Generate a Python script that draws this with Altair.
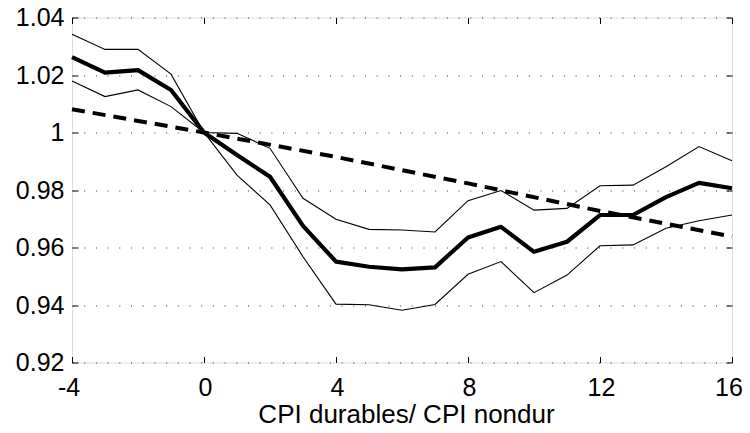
import altair as alt
import pandas as pd

# horizon (months)
horizon = list(range(-4, 17))
# point estimate (thick line)
estimate = [1.0262, 1.0208, 1.0217, 1.0148, 1.0, 0.9922, 0.9846, 0.9675, 0.9551, 0.9533, 0.9524,
            0.9531, 0.9635, 0.9672, 0.9585, 0.9620, 0.9713, 0.9713, 0.9775, 0.9825, 0.9806]
# upper band (thin)
upper = [1.0342, 1.0289, 1.0289, 1.0203, 1.0, 0.9997, 0.9945, 0.9771, 0.9698, 0.9663, 0.9661,
         0.9654, 0.9763, 0.9798, 0.9730, 0.9736, 0.9815, 0.9817, 0.9881, 0.9951, 0.9902]
# lower band (thin)
lower = [1.0179, 1.0125, 1.0148, 1.0090, 1.0, 0.9852, 0.9748, 0.9568, 0.9403, 0.9401, 0.9382,
         0.9402, 0.9507, 0.9551, 0.9443, 0.9504, 0.9606, 0.9609, 0.9667, 0.9693, 0.9713]
# trend (dashed)
trend_x = [-4, 0, 4, 8, 12, 16]
trend_y = [1.0081, 1.0, 0.9915, 0.9823, 0.9727, 0.9638]

x_ticks = [-4, 0, 4, 8, 12, 16]
y_ticks = [0.92, 0.94, 0.96, 0.98, 1.00, 1.02, 1.04]

W, H = 660, 345
FONT = "Liberation Sans"
FS = 25

df = pd.DataFrame({"h": horizon, "est": estimate, "up": upper, "lo": lower})
dft = pd.DataFrame({"h": trend_x, "tr": trend_y})

xscale = alt.Scale(domain=[-4, 16], nice=False, zero=False)
yscale = alt.Scale(domain=[0.92, 1.04], nice=False, zero=False)

ylabel_expr = "abs(datum.value - 1) < 1e-9 ? '1' : format(datum.value, '.2f')"
xlabel_expr = "'' + datum.value"

# main axes with labels
x_main = alt.Axis(values=x_ticks, orient="bottom", ticks=False, tickSize=0, domain=False, grid=False,
                  labelFont=FONT, labelFontSize=FS, labelColor="black", labelPadding=13,
                  labelExpr=xlabel_expr,
                  labelOffset={"condition": {"test": "datum.value == 16 || datum.value == -4", "value": -3.5},
                               "value": 1},
                  title="CPI durables/ CPI nondur", titleFont=FONT, titleFontSize=26, titleX=334,
                  titleFontWeight="normal", titleColor="black", titlePadding=1, labelFlush=False)
y_main = alt.Axis(values=y_ticks, orient="left", ticks=False, tickSize=0, domain=False, grid=True,
                  gridColor="#333333", gridDash=[1, 10.7], gridWidth=1,
                  labelFont=FONT, labelFontSize=FS, labelColor="black", labelPadding=8,
                  labelExpr=ylabel_expr, title=None, labelFlush=False)

# inward tick axes
def tick_axis(orient, offset, values):
    return alt.Axis(values=values, orient=orient, offset=offset, labels=False, domain=False,
                    grid=False, ticks=True, tickSize=6, tickColor="black", tickWidth=1, title=None)

thick = alt.Chart(df).mark_line(color="black", strokeWidth=4.2, strokeJoin="round").encode(
    x=alt.X("h:Q", scale=xscale, axis=x_main),
    y=alt.Y("est:Q", scale=yscale, axis=y_main),
)
up = alt.Chart(df).mark_line(color="black", strokeWidth=1.1).encode(
    x=alt.X("h:Q", scale=xscale, axis=tick_axis("top", -H, x_ticks)),
    y=alt.Y("up:Q", scale=yscale, axis=tick_axis("right", -W, y_ticks)),
)
lo = alt.Chart(df).mark_line(color="black", strokeWidth=1.1).encode(
    x=alt.X("h:Q", scale=xscale, axis=tick_axis("bottom", -H, x_ticks)),
    y=alt.Y("lo:Q", scale=yscale, axis=tick_axis("left", -W, y_ticks)),
)
tr = alt.Chart(dft).mark_line(color="black", strokeWidth=4, strokeDash=[13, 8]).encode(
    x=alt.X("h:Q", scale=xscale, axis=None),
    y=alt.Y("tr:Q", scale=yscale, axis=None),
)

chart = alt.layer(thick, up, lo, tr).resolve_axis(x="independent", y="independent").properties(
    width=W, height=H, autosize="none",
    padding={"left": 64, "top": 9.5, "right": 10, "bottom": 61.5},
).configure_view(stroke="black", strokeWidth=1.2).configure(background="white")

chart.save("out.html", embed_options={"renderer": "svg", "actions": False})
